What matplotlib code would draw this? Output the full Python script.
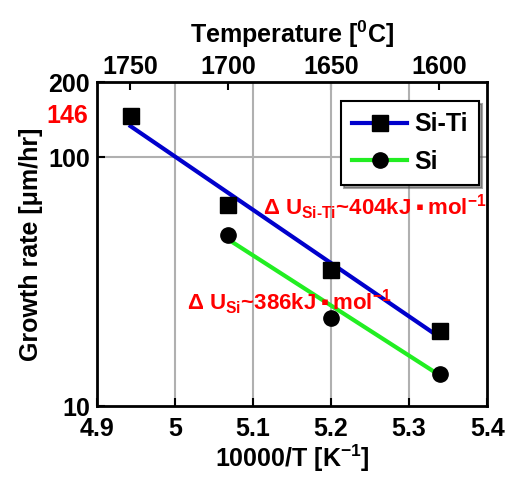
import matplotlib.pyplot as plt
import numpy as np

plt.rcParams['font.family'] = ['Liberation Sans', 'DejaVu Sans']
plt.rcParams['font.weight'] = 'bold'
plt.rcParams['axes.labelweight'] = 'bold'
plt.rcParams['mathtext.fontset'] = 'custom'
plt.rcParams['mathtext.rm'] = 'Liberation Sans:bold'
plt.rcParams['mathtext.it'] = 'Liberation Sans:bold'
plt.rcParams['mathtext.bf'] = 'Liberation Sans:bold'

# data
inv_T_siti = [4.943, 5.068, 5.200, 5.339]
rate_siti = [146, 64, 35.3, 20]
inv_T_si = [5.068, 5.200, 5.339]
rate_si = [48.5, 22.6, 13.5]

# fitted lines (endpoints)
fit_x_siti = [4.943, 5.339]
fit_y_siti = [133, 18.9]
fit_x_si = [5.068, 5.339]
fit_y_si = [46.7, 13.3]

temp_ticks = [1750, 1700, 1650, 1600]

fig = plt.figure(figsize=(5.08, 4.8), dpi=100)
ax = fig.add_axes([0.191, 0.154, 0.768, 0.675])

ax.plot(fit_x_siti, fit_y_siti, color='#0000cc', lw=3, zorder=3)
ax.plot(fit_x_si, fit_y_si, color='#22ee22', lw=3, zorder=3)
ax.plot(inv_T_siti, rate_siti, 's', color='black', ms=11, zorder=4)
ax.plot(inv_T_si, rate_si, 'o', color='black', ms=11, zorder=4)

# legend proxies
h1, = ax.plot([], [], color='#0000cc', lw=3, marker='s', mfc='black', mec='black', ms=11, label='Si-Ti')
h2, = ax.plot([], [], color='#22ee22', lw=3, marker='o', mfc='black', mec='black', ms=11, label='Si')

ax.set_yscale('log')
ax.set_xlim(4.9, 5.4)
ax.set_ylim(10, 200)
ax.set_xticks([4.9, 5.0, 5.1, 5.2, 5.3, 5.4])
ax.set_xticklabels(['4.9', '5', '5.1', '5.2', '5.3', '5.4'])
ax.set_yticks([10, 100, 200])
ax.set_yticklabels(['10', '100', '200'])
ax.yaxis.set_minor_locator(plt.NullLocator())

for xv in [5.0, 5.1, 5.2, 5.3]:
    ax.axvline(xv, color='#b0b0b0', lw=1.5, zorder=1)
ax.axhline(100, color='#b0b0b0', lw=1.5, zorder=1)

ax.tick_params(axis='both', direction='in', labelsize=18, width=1.5, length=6)
ax.tick_params(axis='x', pad=8)
ax.tick_params(axis='y', pad=5)
for s in ax.spines.values():
    s.set_linewidth(2)

ax.text(-0.022, np.log10(146 / 10) / np.log10(20), '146', color='red', fontsize=18,
        fontweight='bold', transform=ax.transAxes, ha='right', va='center')

ax.set_xlabel('10000/T [K$^{-1}$]', fontsize=18, labelpad=1)
ax.set_ylabel('Growth rate [\u03bcm/hr]', fontsize=18, labelpad=4)

top = ax.secondary_xaxis('top', functions=(lambda x: 10000 / x - 273.15,
                                           lambda t: 10000 / (t + 273.15)))
top.set_xticks(temp_ticks)
top.tick_params(direction='in', labelsize=18, width=1.5, length=6, pad=2)
top.set_xlabel('Temperature [$^0$C]', fontsize=18, labelpad=9)

leg = ax.legend(handles=[h1, h2], loc='upper right', fontsize=18, frameon=True,
                fancybox=False, shadow=True, handlelength=2.2, borderpad=0.45,
                labelspacing=0.55, handletextpad=0.3, borderaxespad=0.0,
                bbox_to_anchor=(0.98, 0.941))
leg.get_frame().set_edgecolor('black')
leg.get_frame().set_linewidth(1.5)

ax.text(5.113, 63, '\u0394 U$_{\\mathrm{Si\\text{-}Ti}}$~404kJ\u2009\u25aa\u2009mol$^{-1}$', color='red',
        fontsize=16, fontweight='bold', ha='left', va='center', zorder=5)
ax.text(5.015, 26, '\u0394 U$_{\\mathrm{Si}}$~386kJ\u2009\u25aa\u2009mol$^{-1}$', color='red',
        fontsize=16, fontweight='bold', ha='left', va='center', zorder=5)

fig.savefig('out.png', dpi=100)
